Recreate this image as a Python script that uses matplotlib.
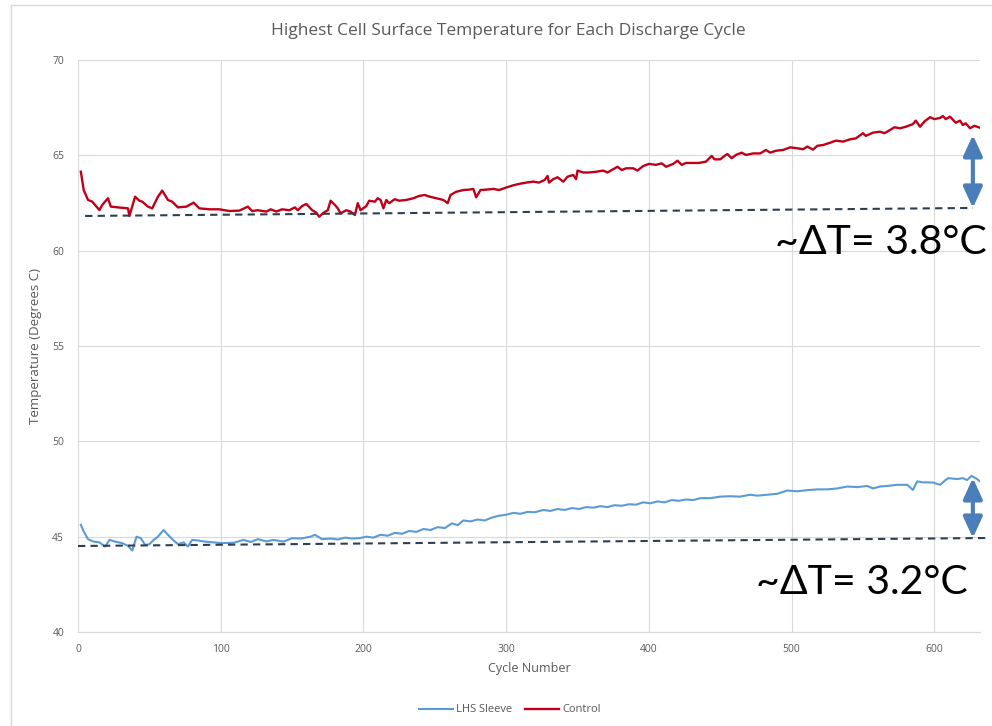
import matplotlib.pyplot as plt
from matplotlib.lines import Line2D

# max surface temp per discharge cycle
control_cycle = [2, 4, 7, 10, 15, 17, 21, 23, 28, 35,
                 36, 40, 43, 45, 49, 52, 56, 59, 63, 66,
                 70, 76, 81, 85, 92, 99, 106, 113, 119, 122,
                 126, 132, 135, 139, 143, 148, 152, 154, 157, 160,
                 164, 167, 169, 172, 175, 177, 180, 182, 184, 188,
                 191, 194, 196, 198, 202, 204, 208, 210, 212, 214,
                 216, 218, 222, 225, 230, 235, 239, 243, 246, 251,
                 256, 259, 261, 265, 270, 274, 277, 279, 282, 286,
                 291, 295, 300, 305, 309, 314, 319, 323, 327, 329,
                 330, 333, 336, 340, 343, 347, 349, 350, 354, 358,
                 363, 368, 371, 375, 378, 381, 384, 389, 392, 396,
                 400, 405, 409, 412, 417, 420, 423, 426, 431, 435,
                 440, 444, 446, 450, 453, 455, 458, 461, 465, 468,
                 473, 478, 482, 485, 489, 494, 499, 504, 508, 511,
                 515, 518, 522, 527, 531, 536, 541, 545, 550, 552,
                 557, 562, 565, 569, 572, 576, 580, 585, 587, 590,
                 593, 597, 600, 604, 606, 608, 611, 613, 615, 618,
                 620, 622, 625, 628, 631, 633]
control_temp = [64.14, 63.18, 62.66, 62.57, 62.13, 62.40, 62.75, 62.31, 62.27, 62.22,
                61.82, 62.83, 62.62, 62.57, 62.31, 62.22, 62.83, 63.15, 62.66, 62.57,
                62.27, 62.31, 62.52, 62.22, 62.17, 62.17, 62.08, 62.10, 62.31, 62.08,
                62.12, 62.05, 62.17, 62.05, 62.17, 62.12, 62.27, 62.12, 62.34, 62.45,
                62.13, 61.99, 61.78, 61.99, 62.12, 62.62, 62.40, 62.22, 61.96, 62.12,
                62.05, 61.87, 62.49, 62.12, 62.34, 62.62, 62.57, 62.75, 62.66, 62.22,
                62.66, 62.49, 62.70, 62.62, 62.66, 62.75, 62.87, 62.92, 62.84, 62.75,
                62.66, 62.49, 62.92, 63.09, 63.18, 63.20, 63.24, 62.80, 63.18, 63.20,
                63.24, 63.18, 63.31, 63.43, 63.50, 63.57, 63.62, 63.57, 63.71, 63.92,
                63.57, 63.75, 63.85, 63.62, 63.88, 63.97, 63.75, 64.20, 64.10, 64.10,
                64.14, 64.20, 64.10, 64.27, 64.40, 64.23, 64.32, 64.32, 64.20, 64.44,
                64.55, 64.50, 64.58, 64.40, 64.55, 64.72, 64.50, 64.60, 64.60, 64.60,
                64.67, 64.97, 64.79, 64.79, 64.97, 65.07, 64.85, 65.02, 65.14, 65.02,
                65.10, 65.10, 65.28, 65.14, 65.24, 65.28, 65.42, 65.37, 65.32, 65.46,
                65.30, 65.50, 65.54, 65.66, 65.77, 65.72, 65.84, 65.89, 66.16, 66.02,
                66.19, 66.24, 66.16, 66.33, 66.47, 66.42, 66.50, 66.64, 66.82, 66.50,
                66.77, 67.00, 66.90, 66.96, 67.06, 66.90, 67.03, 66.87, 66.71, 66.82,
                66.59, 66.68, 66.42, 66.55, 66.47, 66.42]

sleeve_cycle = [2, 4, 7, 11, 15, 19, 22, 26, 31, 35,
                38, 41, 44, 47, 50, 53, 56, 60, 63, 67,
                70, 74, 77, 80, 84, 89, 95, 101, 109, 116,
                121, 126, 132, 137, 144, 150, 156, 163, 166, 171,
                177, 182, 187, 192, 197, 202, 207, 212, 217, 222,
                227, 232, 237, 242, 247, 252, 257, 262, 266, 270,
                275, 280, 285, 290, 295, 300, 305, 310, 315, 320,
                326, 331, 336, 341, 346, 351, 356, 361, 366, 371,
                376, 381, 386, 391, 396, 401, 406, 411, 416, 421,
                426, 431, 436, 443, 450, 457, 464, 471, 476, 483,
                490, 497, 504, 511, 518, 525, 532, 539, 546, 553,
                557, 562, 567, 574, 581, 585, 588, 592, 599, 604,
                608, 610, 616, 620, 623, 626, 630, 632]
sleeve_temp = [45.62, 45.27, 44.87, 44.74, 44.70, 44.48, 44.83, 44.74, 44.66, 44.52,
               44.27, 45.00, 44.92, 44.57, 44.60, 44.83, 45.00, 45.35, 45.10, 44.80,
               44.61, 44.70, 44.48, 44.83, 44.80, 44.74, 44.70, 44.66, 44.68, 44.83,
               44.72, 44.87, 44.75, 44.83, 44.74, 44.92, 44.90, 45.00, 45.10, 44.87,
               44.90, 44.85, 44.95, 44.90, 44.92, 45.00, 44.95, 45.10, 45.05, 45.20,
               45.15, 45.30, 45.25, 45.40, 45.35, 45.50, 45.45, 45.70, 45.60, 45.85,
               45.80, 45.90, 45.85, 46.00, 46.10, 46.15, 46.25, 46.20, 46.30, 46.28,
               46.40, 46.35, 46.45, 46.40, 46.50, 46.45, 46.55, 46.52, 46.60, 46.55,
               46.65, 46.62, 46.70, 46.68, 46.80, 46.75, 46.85, 46.80, 46.92, 46.88,
               46.95, 46.92, 47.02, 47.02, 47.10, 47.12, 47.10, 47.20, 47.15, 47.20,
               47.25, 47.42, 47.38, 47.44, 47.48, 47.48, 47.53, 47.63, 47.60, 47.66,
               47.53, 47.63, 47.66, 47.72, 47.72, 47.45, 47.90, 47.85, 47.84, 47.72,
               47.98, 48.07, 48.02, 48.07, 47.97, 48.19, 48.02, 47.90]

# baseline reference lines (start, end) and the delta-T arrows
control_base_x = [5, 627]
control_base_y = [61.82, 62.24]
control_peak = 66.07
sleeve_base_x = [0, 637]
sleeve_base_y = [44.51, 44.93]
sleeve_peak = 48.08
arrow_x = 627

W, H = 992, 726
fig = plt.figure(figsize=(W / 100, H / 100), dpi=100)
ax = fig.add_axes([78 / W, 1 - 632 / H, (980 - 78) / W, (632 - 60) / H])

grey = '#595959'
grid = '#D9D9D9'
small = 'Open Sans'

ax.plot(sleeve_cycle, sleeve_temp, color='#5B9BD5', lw=1.5, label='LHS Sleeve')
ax.plot(control_cycle, control_temp, color='#C00018', lw=1.7, label='Control')

ax.set_xlim(0, 632)
ax.set_ylim(40, 70)
ax.set_xticks(range(0, 601, 100))
ax.set_yticks(range(40, 71, 5))
ax.grid(True, color=grid, lw=0.8)
ax.set_axisbelow(True)
for s in ['top', 'right', 'left']:
    ax.spines[s].set_visible(False)
ax.spines['bottom'].set_color(grid)
ax.tick_params(length=0, labelsize=7.5, labelcolor=grey)
ax.tick_params(axis='y', pad=10)
ax.tick_params(axis='x', pad=9)
for lab in ax.get_xticklabels() + ax.get_yticklabels():
    lab.set_family(small)

ax.set_xlabel('Cycle Number', fontsize=9, color=grey, family=small, labelpad=5)
ax.set_ylabel('Temperature (Degrees C)', fontsize=9.5, color=grey, family=small, labelpad=7)
fig.text(508 / W, 1 - 31 / H, 'Highest Cell Surface Temperature for Each Discharge Cycle',
         ha='center', va='center', fontsize=12.5, color=grey, family=small)

# dashed baselines
dash = '#2F3F4F'
ax.plot(control_base_x, control_base_y, color=dash, lw=1.5, ls=(0, (3.5, 2.5)), clip_on=False)
ax.plot(sleeve_base_x, sleeve_base_y, color=dash, lw=1.5, ls=(0, (3.5, 2.5)), clip_on=False)

# delta-T arrows
for y0, y1 in [(control_base_y[1], control_peak), (sleeve_base_y[1], sleeve_peak)]:
    ax.annotate('', xy=(arrow_x, y1), xytext=(arrow_x, y0),
                arrowprops=dict(arrowstyle='<|-|>,head_length=0.7,head_width=0.32',
                                mutation_scale=18, color='#4A7EBB', lw=3,
                                shrinkA=0, shrinkB=0),
                annotation_clip=False)

ax.text(987 / W, 1 - 243 / H, '~ΔT= 3.8°C', transform=fig.transFigure, ha='right', va='center',
        fontsize=29.5, family='Lato', color='black')
ax.text(968 / W, 1 - 583 / H, '~ΔT= 3.2°C', transform=fig.transFigure, ha='right', va='center',
        fontsize=29.5, family='Lato', color='black')

fig.legend(loc='center', bbox_to_anchor=(510 / W, 1 - 710 / H), ncol=2, frameon=False,
           prop={'family': small, 'size': 8}, labelcolor=grey, handlelength=3.0,
           columnspacing=1.2, handletextpad=0.3)

# chart frame
fig.add_artist(Line2D([11 / W, 1], [1 - 5 / H, 1 - 5 / H], color=grid, lw=1, transform=fig.transFigure))
fig.add_artist(Line2D([11 / W, 11 / W], [0, 1 - 5 / H], color=grid, lw=1, transform=fig.transFigure))

fig.savefig('out.png', dpi=100)
